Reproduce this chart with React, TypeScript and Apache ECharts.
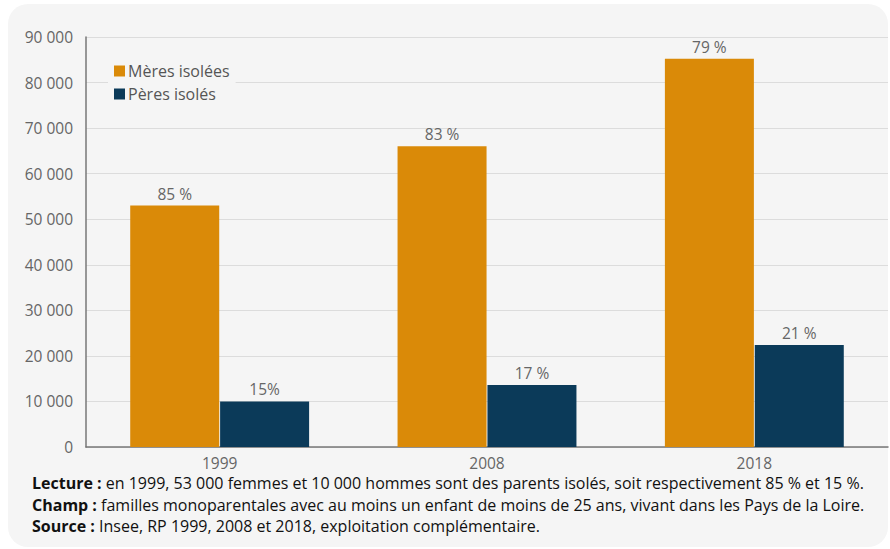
import React, { useEffect, useRef } from "react";
import * as echarts from "echarts";

const categories = ["1999", "2008", "2018"];
const meres = [53000, 66000, 85200];
const peres = [10000, 13600, 22400];
const meresLabels = ["85 %", "83 %", "79 %"];
const peresLabels = ["15%", "17 %", "21 %"];
const seriesNames = ["Mères isolées", "Pères isolés"];
const notes = [
  ["Lecture :", " en 1999, 53 000 femmes et 10 000 hommes sont des parents isolés, soit respectivement 85 % et 15 %."],
  ["Champ :", " familles monoparentales avec au moins un enfant de moins de 25 ans, vivant dans les Pays de la Loire."],
  ["Source :", " Insee, RP 1999, 2008 et 2018, exploitation complémentaire."],
];

const FONT = "'Open Sans', 'Noto Sans', sans-serif";
const FS = 15.5;
const FOOT = 16;

export default function App() {
  const ref = useRef<HTMLDivElement>(null);
  useEffect(() => {
    const chart = echarts.init(ref.current!, null, { renderer: "svg" });
    const fmt = (v: number) => String(v).replace(/\B(?=(\d{3})+(?!\d))/g, " ");
    chart.setOption({
      animation: false,
      textStyle: { fontFamily: FONT },
      graphic: [
        {
          type: "rect",
          z: -10,
          shape: { x: 8, y: 4, width: 880, height: 543, r: 20 },
          style: { fill: "#f5f5f5" },
          silent: true,
        },
        ...notes.map((n, i) => ({
          type: "text",
          left: 32,
          top: 475 + i * 21.6,
          style: {
            text: `{b|${n[0]}}{n|${n[1]}}`,
            rich: {
              b: { fontFamily: FONT, fontSize: FOOT, fontWeight: "bold", fill: "#111" },
              n: { fontFamily: FONT, fontSize: FOOT, fill: "#111" },
            },
          },
        })),
      ],
      legend: {
        left: 108,
        top: 60,
        orient: "vertical",
        itemWidth: 11,
        itemHeight: 11,
        itemGap: 7,
        backgroundColor: "#f5f5f5",
        padding: [3, 6, 3, 6],
        textStyle: { fontFamily: FONT, fontSize: 16, color: "#555", padding: [0, 0, 0, -2] },
        icon: "rect",
        data: seriesNames,
      },
      grid: { left: 86, right: 2, top: 37, bottom: 102 },
      xAxis: {
        type: "category",
        data: categories,
        axisLine: { lineStyle: { color: "#777", width: 1.5 } },
        axisTick: { show: false },
        axisLabel: { color: "#666", fontSize: FS, fontFamily: FONT, margin: 8 },
      },
      yAxis: {
        type: "value",
        min: 0,
        max: 90000,
        interval: 10000,
        axisLine: { show: true, lineStyle: { color: "#777", width: 1.5 } },
        axisTick: { show: false },
        splitLine: { lineStyle: { color: "#dcdcdc", width: 1 } },
        axisLabel: { color: "#666", fontSize: FS, fontFamily: FONT, margin: 13, formatter: fmt },
      },
      series: [
        {
          name: seriesNames[0],
          type: "bar",
          data: meres,
          barWidth: 89,
          barGap: "1%",
          itemStyle: { color: "#da8a08" },
          label: {
            show: true,
            position: "top",
            distance: 4,
            color: "#666",
            fontSize: FS,
            fontFamily: FONT,
            formatter: (p: any) => meresLabels[p.dataIndex],
          },
        },
        {
          name: seriesNames[1],
          type: "bar",
          data: peres,
          barWidth: 89,
          itemStyle: { color: "#0b3a59" },
          label: {
            show: true,
            position: "top",
            distance: 4,
            color: "#666",
            fontSize: FS,
            fontFamily: FONT,
            formatter: (p: any) => peresLabels[p.dataIndex],
          },
        },
      ],
    });
    return () => chart.dispose();
  }, []);
  return (
    <div style={{ position: "absolute", left: 0, top: 0, width: 890, height: 549, background: "#fff" }}>
      <div ref={ref} style={{ width: 890, height: 549 }} />
    </div>
  );
}
